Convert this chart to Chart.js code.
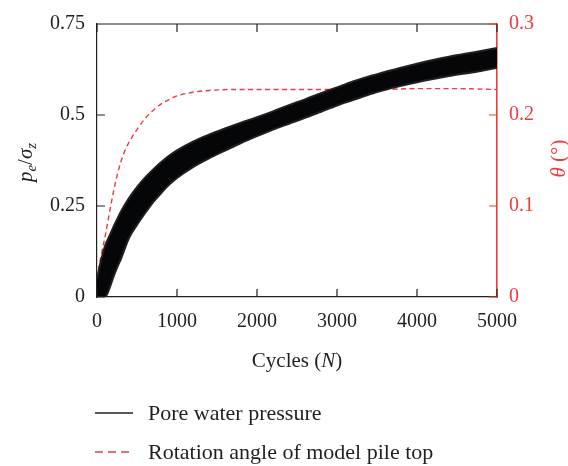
<!DOCTYPE html>
<html>
<head>
<meta charset="utf-8">
<script src="https://cdn.jsdelivr.net/npm/chart.js@4/dist/chart.umd.min.js"></script>
<style>
body{margin:0;background:#fff}
#wrap{position:relative;width:568px;height:466px}
#legend{position:absolute;left:95px;top:393px;font:22px 'Liberation Serif',serif;color:#231f20}
.item{display:flex;align-items:center;height:39px}
.item svg{margin-right:15px}
</style>
</head>
<body>
<div id="wrap">
<canvas id="chart" width="568" height="466"></canvas>
<div id="legend">
	<div class="item"><svg width="38" height="4"><line x1="0" y1="2" x2="38" y2="2" stroke="#231f20" stroke-width="1.6"/></svg>Pore water pressure</div>
	<div class="item"><svg width="38" height="4"><line x1="0" y1="2" x2="38" y2="2" stroke="#f03a3a" stroke-width="1.6" stroke-dasharray="8,5"/></svg>Rotation angle of model pile top</div>
</div>
</div>
<script>
// pore water pressure band (envelope of the cyclic signal)
const cycles = [0,50,100,150,200,250,300,400,500,600,700,800,900,1000,1200,1400,1600,1800,2000,2200,2400,2600,2800,3000,3200,3400,3600,3800,4000,4200,4400,4600,4800,5000]
const poreUpper = [0.05,0.10,0.14,0.165,0.19,0.213,0.235,0.272,0.302,0.328,0.35,0.37,0.388,0.403,0.427,0.446,0.463,0.479,0.494,0.51,0.527,0.543,0.56,0.576,0.592,0.606,0.618,0.63,0.641,0.651,0.66,0.668,0.676,0.684]
const poreLower = [0,0,0,0.02,0.052,0.08,0.105,0.162,0.198,0.23,0.26,0.285,0.308,0.327,0.357,0.381,0.402,0.423,0.442,0.46,0.476,0.492,0.509,0.526,0.541,0.556,0.569,0.58,0.59,0.599,0.607,0.614,0.621,0.63]

// rotation angle of pile top (deg)
const angleCycles = [0,50,100,150,200,250,300,350,400,500,600,700,800,900,1000,1200,1400,1700,2000,2500,3000,3500,4000,4500,5000]
const angle = [0.02,0.045,0.066,0.09,0.113,0.133,0.149,0.161,0.17,0.184,0.196,0.205,0.212,0.217,0.221,0.225,0.227,0.228,0.228,0.228,0.228,0.228,0.229,0.229,0.228]

const xTickLabels = ['0','1000','2000','3000','4000','5000']
const yTickLabels = ['0','0.25','0.5','0.75']
const y2TickLabels = ['0','0.1','0.2','0.3']

const RED = '#f03a3a'
const INK = '#231f20'
const FONT = "'Liberation Serif', serif"

const pts = (xs, ys) => xs.map((x, i) => ({x: x, y: ys[i]}))

function drawRich(ctx, parts, cx, cy, rot, color){
	ctx.save()
	ctx.translate(cx, cy)
	ctx.rotate(rot)
	ctx.fillStyle = color
	ctx.textBaseline = 'alphabetic'
	const fontOf = p => (p.i ? 'italic ' : '') + (p.sub ? '15px ' : '21px ') + FONT
	let w = 0
	parts.forEach(p => { ctx.font = fontOf(p); p.w = ctx.measureText(p.t).width; w += p.w })
	let x = -w/2
	parts.forEach(p => { ctx.font = fontOf(p); ctx.fillText(p.t, x, p.sub ? 11 : 7); x += p.w })
	ctx.restore()
}

// inward tick marks, top frame line and the axis titles
const framePlugin = {
	id: 'frame',
	afterDraw(chart){
		const ctx = chart.ctx
		const a = chart.chartArea
		const sx = chart.scales.x, sy = chart.scales.y, sy2 = chart.scales.y2
		const L = 8
		ctx.save()
		ctx.lineWidth = 1.2
		ctx.strokeStyle = INK
		ctx.beginPath()
		ctx.moveTo(a.left, a.top); ctx.lineTo(a.right, a.top)
		sx.ticks.forEach(t => {
			const px = sx.getPixelForValue(t.value)
			ctx.moveTo(px, a.bottom); ctx.lineTo(px, a.bottom - L)
			ctx.moveTo(px, a.top); ctx.lineTo(px, a.top + L)
		})
		sy.ticks.forEach(t => {
			const py = sy.getPixelForValue(t.value)
			ctx.moveTo(a.left, py); ctx.lineTo(a.left + L, py)
		})
		ctx.stroke()
		ctx.strokeStyle = RED
		ctx.beginPath()
		sy2.ticks.forEach(t => {
			const py = sy2.getPixelForValue(t.value)
			ctx.moveTo(a.right, py); ctx.lineTo(a.right - L, py)
		})
		ctx.stroke()
		ctx.restore()

		const midY = (a.top + a.bottom)/2
		drawRich(ctx, [{t:'p',i:true},{t:'e',i:true,sub:true},{t:'/'},{t:'σ',i:true},{t:'z',i:true,sub:true}], 25, midY + 2, -Math.PI/2, INK)
		drawRich(ctx, [{t:'θ',i:true},{t:' (°)'}], 558, midY - 2, -Math.PI/2, RED)
		drawRich(ctx, [{t:'Cycles ('},{t:'N',i:true},{t:')'}], (a.left + a.right)/2, a.bottom + 63, 0, INK)
	}
}

new Chart(document.getElementById('chart'), {
	type: 'line',
	data: {
		datasets: [
			{
				label: 'lower',
				data: pts(cycles, poreLower),
				borderColor: INK,
				borderWidth: 2,
				pointRadius: 0,
				cubicInterpolationMode: 'monotone',
				fill: false
			},
			{
				label: 'Pore water pressure',
				data: pts(cycles, poreUpper),
				borderColor: INK,
				backgroundColor: '#050608',
				borderWidth: 2,
				pointRadius: 0,
				cubicInterpolationMode: 'monotone',
				fill: '-1'
			},
			{
				label: 'Rotation angle of model pile top',
				data: pts(angleCycles, angle),
				yAxisID: 'y2',
				borderColor: RED,
				borderWidth: 1.4,
				borderDash: [5, 3.5],
				pointRadius: 0,
				cubicInterpolationMode: 'monotone',
				fill: false
			}
		]
	},
	options: {
		responsive: false,
		animation: false,
		events: [],
		layout: { autoPadding: false, padding: { top: 20, left: 0, right: 0, bottom: 0 } },
		plugins: { legend: { display: false }, tooltip: { enabled: false } },
		scales: {
			x: {
				type: 'linear', min: 0, max: 5000,
				afterFit: s => { s.height = 169 },
				ticks: { stepSize: 1000, padding: 13, color: INK, font: { family: FONT, size: 20 },
					callback: (v, i) => xTickLabels[i] },
				grid: { display: false, drawTicks: false },
				border: { display: true, color: INK, width: 1.2 }
			},
			y: {
				min: 0, max: 0.75,
				afterFit: s => { s.width = 97 },
				ticks: { stepSize: 0.25, padding: 12, color: INK, font: { family: FONT, size: 20 },
					callback: (v, i) => yTickLabels[i] },
				grid: { display: false, drawTicks: false },
				border: { display: true, color: INK, width: 1.2 }
			},
			y2: {
				position: 'right', min: 0, max: 0.3,
				afterFit: s => { s.width = 71 },
				ticks: { stepSize: 0.1, padding: 12, color: RED, font: { family: FONT, size: 20 },
					callback: (v, i) => y2TickLabels[i] },
				grid: { display: false, drawTicks: false },
				border: { display: true, color: RED, width: 1.6 }
			}
		}
	},
	plugins: [framePlugin]
})
</script>
</body>
</html>
